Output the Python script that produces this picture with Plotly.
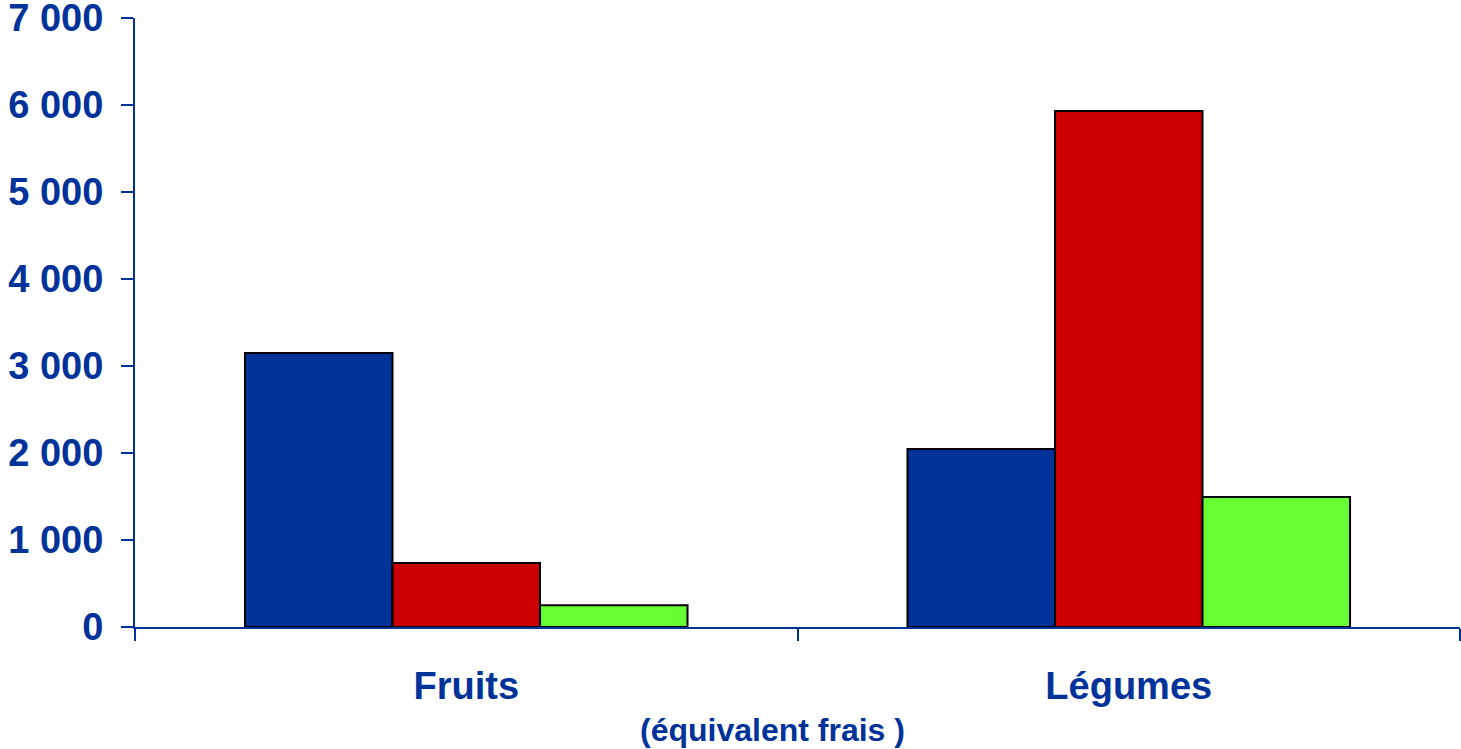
import plotly.graph_objects as go

BLEU = "#003399"
ROUGE = "#CC0000"
VERT = "#66FF33"

categories = ["Fruits", "Légumes"]
serie_1 = [3150, 2045]
serie_2 = [735, 5930]
serie_3 = [250, 1495]
y_ticks = [0, 1000, 2000, 3000, 4000, 5000, 6000, 7000]
y_labels = ["0", "1 000", "2 000", "3 000", "4 000", "5 000", "6 000", "7 000"]

fig = go.Figure()
for nom, vals, col in [("Série 1", serie_1, BLEU), ("Série 2", serie_2, ROUGE), ("Série 3", serie_3, VERT)]:
    fig.add_trace(go.Bar(
        x=categories, y=vals, name=nom,
        marker=dict(color=col, line=dict(color="black", width=2)),
    ))

# sous-titre légèrement décalé à gauche du centre, comme dans l'original
fig.add_annotation(
    text="(équivalent frais )", xref="paper", yref="paper",
    x=0.4808, y=-0.169, xanchor="center", yanchor="middle",
    showarrow=False, font=dict(size=32, weight="bold", color=BLEU),
)

fig.update_layout(
    barmode="group",
    bargap=0.332,
    bargroupgap=0,
    showlegend=False,
    paper_bgcolor="white", plot_bgcolor="white",
    width=1461, height=749,
    margin=dict(t=18, b=122, l=135, r=1, autoexpand=False),
    font=dict(family="Liberation Sans, Arial", color=BLEU),
    xaxis=dict(
        type="category", automargin=False,
        showline=True, linecolor=BLEU, linewidth=2,
        ticks="outside", tickson="boundaries", ticklen=12, tickwidth=2, tickcolor=BLEU,
        tickfont=dict(size=38, weight="bold", color=BLEU),
        ticklabelstandoff=24,
        showgrid=False,
    ),
    yaxis=dict(
        range=[0, 7000], automargin=False,
        tickvals=y_ticks, ticktext=y_labels,
        ticklabeloverflow="allow",
        showline=True, linecolor=BLEU, linewidth=2,
        ticks="outside", ticklen=12, tickwidth=2, tickcolor=BLEU,
        tickfont=dict(size=38, weight="bold", color=BLEU),
        ticklabelstandoff=10,
        showgrid=False, zeroline=False,
    ),
)

# la page a une marge de 8px par défaut : on la supprime
fig.write_html("out.html", config={"displayModeBar": False},
               post_script="document.body.style.margin='0';")
